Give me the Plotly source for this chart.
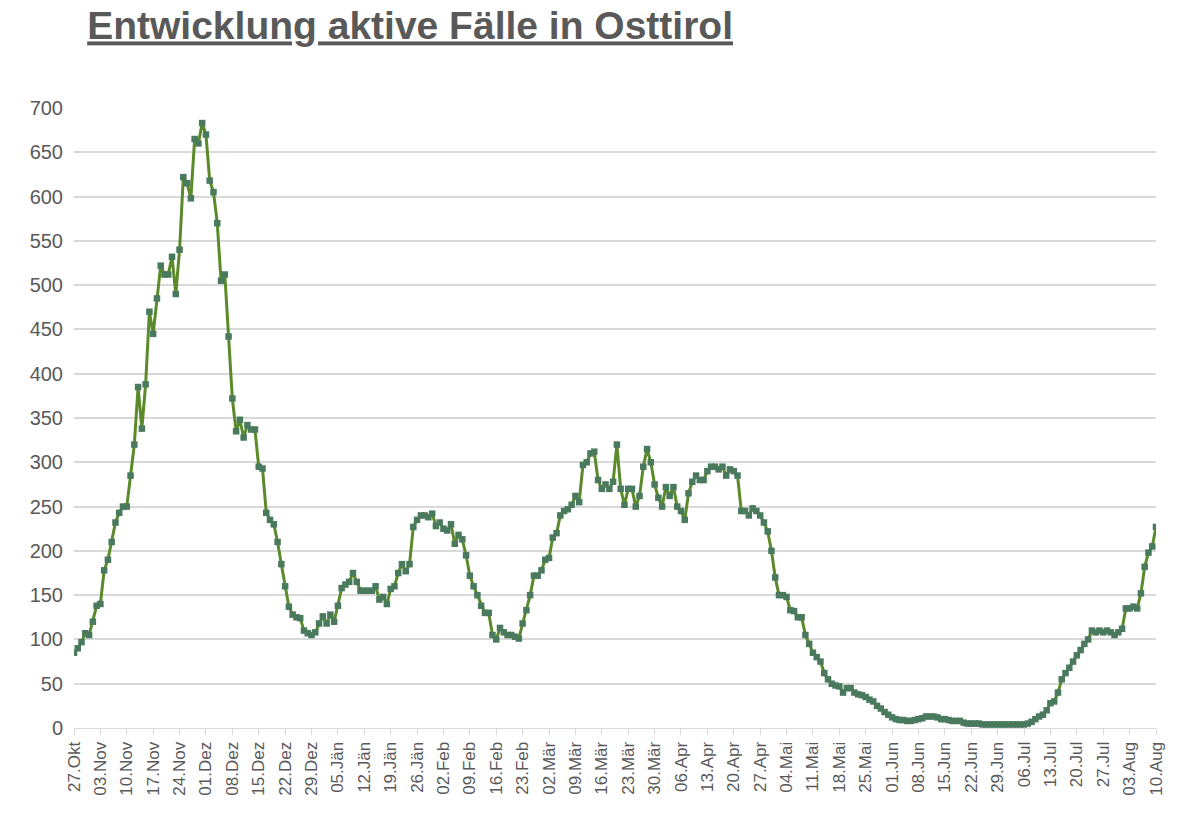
import pandas as pd
import plotly.graph_objects as go

start_date = "2020-10-27"
values = [
    85, 90, 97, 107, 105, 120, 138,
    140, 178, 190, 210, 232, 243, 250,
    250, 285, 320, 385, 338, 388, 470,
    445, 485, 522, 512, 512, 532, 490,
    540, 622, 615, 598, 665, 660, 683,
    670, 618, 605, 570, 505, 512, 442,
    372, 335, 348, 328, 342, 337, 337,
    295, 293, 243, 235, 230, 210, 185,
    160, 137, 128, 125, 124, 110, 107,
    105, 108, 118, 126, 118, 128, 120,
    138, 158, 162, 165, 175, 165, 155,
    155, 155, 155, 160, 145, 148, 140,
    157, 160, 175, 185, 177, 185, 227,
    235, 240, 240, 238, 242, 228, 232,
    225, 223, 230, 208, 218, 213, 195,
    172, 160, 150, 138, 130, 130, 105,
    100, 113, 108, 105, 105, 103, 101,
    118, 133, 150, 172, 172, 178, 190,
    192, 215, 220, 240, 245, 247, 252,
    262, 255, 297, 300, 310, 312, 280,
    270, 275, 270, 278, 320, 270, 252,
    270, 270, 250, 262, 295, 315, 300,
    275, 260, 250, 272, 262, 272, 250,
    245, 235, 265, 278, 285, 280, 280,
    290, 295, 295, 292, 295, 285, 292,
    290, 285, 245, 245, 240, 248, 245,
    240, 232, 222, 200, 170, 150, 150,
    148, 133, 132, 125, 125, 105, 95,
    85, 80, 75, 62, 55, 50, 48,
    47, 40, 45, 45, 40, 38, 37,
    35, 32, 30, 25, 22, 18, 15,
    12, 10, 9, 9, 8, 8, 9,
    10, 11, 13, 13, 13, 12, 10,
    10, 9, 8, 8, 8, 6, 5,
    5, 5, 5, 4, 4, 4, 4,
    4, 4, 4, 4, 4, 4, 4,
    4, 5, 7, 10, 13, 15, 20,
    28, 30, 40, 55, 62, 68, 75,
    82, 88, 95, 100, 110, 108, 110,
    108, 110, 108, 105, 108, 112, 135,
    135, 137, 135, 152, 182, 198, 205,
    227,
]
month_names = ["Jän", "Feb", "Mär", "Apr", "Mai", "Jun", "Jul", "Aug",
               "Sep", "Okt", "Nov", "Dez"]

dates = pd.date_range(start_date, periods=len(values), freq="D")
tickvals = list(dates[::7])
ticktext = [f"{d.day:02d}.{month_names[d.month-1]}" for d in tickvals]

fig = go.Figure(go.Scatter(
    x=dates, y=values, mode="lines+markers",
    line=dict(color="#5a8a2a", width=3),
    marker=dict(symbol="square", size=6.5, color="#4a7a5e"),
))
fig.update_layout(
    width=1200, height=826,
    paper_bgcolor="white", plot_bgcolor="white",
    margin=dict(l=66, r=52, t=100, b=106),
    showlegend=False,
    font=dict(family="Liberation Sans, Arial, sans-serif", color="#595959"),
    title=dict(text="<b><u>Entwicklung aktive Fälle in Osttirol</u></b>",
               x=0.066, xanchor="left", y=0.995, yanchor="top",
               font=dict(size=39, color="#595959")),
)
fig.update_xaxes(
    range=[dates[0], dates[-1]], tickmode="array",
    tickvals=tickvals, ticktext=ticktext, tickangle=-90,
    tickfont=dict(size=17), showgrid=False,
    showline=True, linecolor="#d9d9d9", ticks="outside",
    tickcolor="#d9d9d9", ticklen=6,
)
fig.update_yaxes(
    range=[0, 700], dtick=50, tickfont=dict(size=20),
    showgrid=True, gridcolor="#d9d9d9", gridwidth=1.5, zeroline=False,
    ticks="", ticklabelstandoff=10,
)
fig.write_html("out.html")
